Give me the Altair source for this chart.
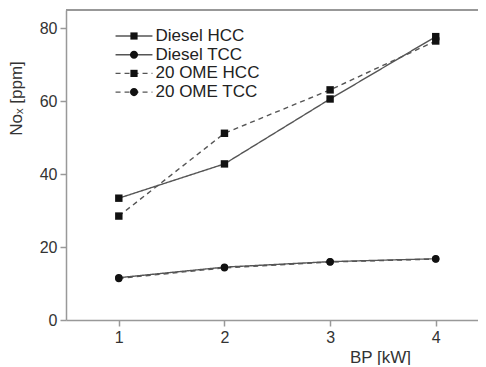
import altair as alt
import pandas as pd

series = ["Diesel HCC", "Diesel TCC", "20 OME HCC", "20 OME TCC"]
bp = [1, 2, 3, 4]
diesel_hcc = [33.4, 42.8, 60.6, 77.7]
diesel_tcc = [11.6, 14.5, 16.0, 16.8]
ome_hcc = [28.5, 51.2, 63.1, 76.5]
ome_tcc = [11.4, 14.3, 15.9, 16.7]

rows = []
for name, vals in zip(series, [diesel_hcc, diesel_tcc, ome_hcc, ome_tcc]):
    for b, v in zip(bp, vals):
        rows.append({"series": name, "line": name, "bp": b, "nox": v})
df = pd.DataFrame(rows)

sq = "M-0.4,-0.4H0.4V0.4H-0.4Z"
ci = "M0.45,0A0.45,0.45 0 1,1 -0.45,0A0.45,0.45 0 1,1 0.45,0Z"
legend_markers = [sq, ci, sq, ci]
legend_line = "M-2.05,0H2.05"
dashes = [[1, 0], [1, 0], [5, 4], [5, 4]]

FONT = "Liberation Sans"
LX, LY = 58, 16

x = alt.X("bp:Q", scale=alt.Scale(domain=[0.5, 4.4], nice=False, zero=False),
          axis=alt.Axis(values=bp, format="d", title="BP [kW]", grid=False,
                        titleX=314, titleY=42, titleAlign="center",
                        titleBaseline="alphabetic"))
y = alt.Y("nox:Q", scale=alt.Scale(domain=[0, 85], nice=False),
          axis=alt.Axis(values=[0, 20, 40, 60, 80], title="Noₓ [ppm]", grid=False,
                        titleAngle=-90, titleX=-50, titleY=88, titleAlign="center",
                        titleBaseline="middle"))

common_legend = dict(title=None, orient="none", legendX=LX, legendY=LY,
                     labelFont=FONT, labelFontSize=17, symbolSize=324,
                     labelOffset=11.5, rowPadding=0.7, padding=0)

lines = alt.Chart(df).mark_line(color="#555555", strokeWidth=1.4).encode(
    x=x, y=y, detail="series:N",
    strokeDash=alt.StrokeDash("line:N", scale=alt.Scale(domain=series, range=dashes),
                              legend=alt.Legend(symbolType=legend_line, labelOpacity=0,
                                                symbolStrokeColor="#555555",
                                                symbolStrokeWidth=1.4, **common_legend)),
)

points = alt.Chart(df).mark_point(filled=True, color="#111111", opacity=1, size=55).encode(
    x=x, y=y,
    shape=alt.Shape("series:N", scale=alt.Scale(domain=series, range=["square", "circle", "square", "circle"]), legend=None),
)

legend_layer = alt.Chart(df).transform_filter("false").mark_point(
    filled=True, color="#111111", opacity=1, size=324
).encode(
    x=x, y=y,
    shape=alt.Shape("series:N", scale=alt.Scale(domain=series, range=legend_markers),
                    legend=alt.Legend(labelColor="#222222", symbolFillColor="#111111",
                                      **common_legend)),
)

frame = alt.Chart(df).mark_rule(color="#999999", strokeWidth=1.5).encode(
    y=alt.value(0), x=alt.value(0), x2=alt.value(412)
)

chart = alt.layer(frame, lines, points, legend_layer).resolve_scale(shape="independent").properties(
    width=412, height=310,
    autosize=alt.AutoSizeParams(type="none"),
    padding={"left": 58, "top": 2, "right": 0, "bottom": 45},
).configure_view(stroke=None).configure_axis(
    domainColor="#999999", domainWidth=1.5, tickColor="#999999", tickWidth=1.5, tickSize=6,
    labelFont=FONT, labelFontSize=16, labelColor="#333333", labelPadding=3,
    titleFont=FONT, titleFontSize=17, titleColor="#333333", titleFontWeight="normal",
)

chart.save("out.html", embed_options={"renderer": "svg", "actions": False})
